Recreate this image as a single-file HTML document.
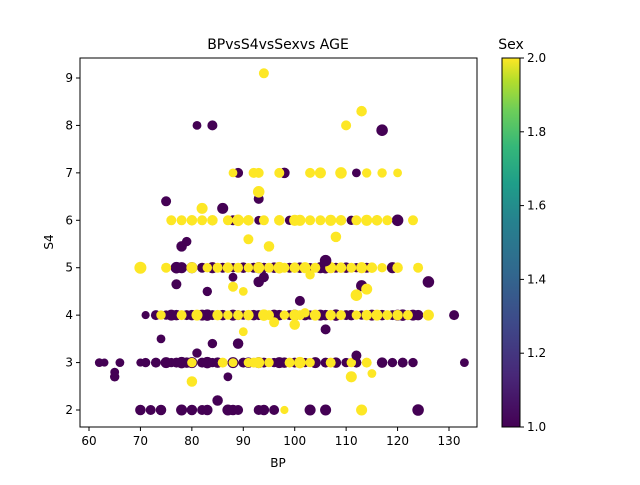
<!DOCTYPE html>
<html><head><meta charset="utf-8"><style>
body{margin:0;background:#fff;font-family:"Liberation Sans","DejaVu Sans",sans-serif}
</style></head><body>
<svg id="c" width="640" height="480" xmlns="http://www.w3.org/2000/svg" font-family="DejaVu Sans, Liberation Sans, sans-serif">
<defs><linearGradient id="vir" x1="0" y1="1" x2="0" y2="0">
<stop offset="0" stop-color="#440154"/><stop offset="0.14" stop-color="#482878"/><stop offset="0.28" stop-color="#3e4989"/><stop offset="0.42" stop-color="#31688e"/><stop offset="0.56" stop-color="#26828e"/><stop offset="0.66" stop-color="#1f9e89"/><stop offset="0.76" stop-color="#35b779"/><stop offset="0.86" stop-color="#6ece58"/><stop offset="0.94" stop-color="#b5de2b"/><stop offset="1" stop-color="#fde725"/></linearGradient></defs>
<g id="marks"></g>
<rect x="80" y="58" width="397" height="369" fill="none" stroke="#000" stroke-width="1"/>
<g id="xt"></g>
<g id="yt"></g>
<text x="278" y="49" text-anchor="middle" font-size="14">BPvsS4vsSexvs AGE</text>
<text x="278" y="467" text-anchor="middle" font-size="12">BP</text>
<text x="53" y="242" text-anchor="middle" font-size="12" transform="rotate(-90 53 242)">S4</text>
<rect x="502" y="58" width="18" height="369" fill="url(#vir)" stroke="#000" stroke-width="1"/>
<text x="511" y="49" text-anchor="middle" font-size="14">Sex</text>
<g id="ct"></g>
</svg>
<script>
const p2 = [[70,50],[72,45],[74,50],[78,55],[80,50],[82,45],[83,50],[87,55],[88,50],[89,45],[93,45],[94,50],[96,45],[103,55],[106,55],[124,60]];
const y2 = [[98,30],[113,55]];
const p3 = [[62,35],[63,30],[66,35],[70,30],[71,40],[73,45],[75,55],[76,40],[77,45],[78,60],[79,50],[80,55],[82,45],[83,60],[84,40],[85,50],[88,55],[90,45],[91,50],[93,55],[94,45],[96,40],[97,55],[98,50],[100,45],[101,50],[102,40],[104,55],[106,45],[108,50],[110,40],[112,45],[117,50],[119,40],[121,45],[123,40],[133,35]];
const y3 = [[80,40],[86,45],[88,35],[91,40],[92,45],[93,55],[95,40],[99,45],[101,60],[103,40],[107,45],[111,40],[114,45]];
const p4 = [[71,30],[73,45],[75,40],[76,55],[77,50],[79,45],[80,50],[82,55],[83,60],[84,45],[86,50],[88,55],[89,45],[90,40],[92,50],[93,45],[96,55],[97,50],[99,45],[100,55],[102,50],[103,40],[105,55],[106,50],[108,60],[110,45],[111,50],[113,40],[115,55],[117,50],[119,45],[120,55],[121,60],[122,45],[123,55],[124,50],[126,45],[131,45]];
const y4 = [[74,40],[78,45],[81,55],[85,50],[87,40],[89,45],[91,50],[94,60],[95,45],[98,40],[100,55],[101,45],[104,55],[107,50],[109,45],[112,40],[114,50],[116,55],[118,45],[120,50],[122,45],[126,55]];
const p5 = [[77,60],[78,55],[80,55],[82,45],[84,55],[86,45],[88,40],[90,50],[92,45],[93,55],[94,45],[96,50],[97,40],[99,45],[101,50],[103,40],[105,55],[106,60],[108,45],[110,50],[112,40],[114,45],[119,55]];
const y5 = [[70,65],[75,45],[80,55],[83,40],[85,45],[87,50],[89,45],[91,40],[93,55],[95,45],[97,60],[98,45],[100,50],[102,55],[104,45],[107,55],[109,50],[111,45],[113,55],[115,50],[117,40],[120,50],[124,45]];
const p6 = [[80,40],[88,45],[93,35],[99,40],[111,40],[116,45],[120,60]];
const y6 = [[76,45],[78,45],[80,50],[82,45],[84,50],[87,45],[89,60],[91,50],[94,45],[97,50],[100,55],[101,55],[103,45],[105,45],[107,55],[109,50],[112,45],[114,55],[116,50],[118,45],[123,45]];
const p7 = [[89,45],[98,50],[112,35]];
const y7 = [[88,35],[92,45],[93,45],[97,45],[103,45],[105,55],[109,60],[114,40],[117,40],[120,35]];
const pOther = [[81,8,35],[84,8,45],[117,7.9,60],[75,6.4,45],[93,6.45,45],[86,6.25,55],[78,5.45,50],[79,5.55,40],[113,4.62,55],[101,4.3,45],[106,3.7,45],[112,3.15,45],[81,3.2,40],[74,3.5,35],[84,3.4,40],[89,3.4,50],[65,2.8,35],[65,2.7,40],[87,2.7,35],[85,2.2,50],[126,4.7,60],[106,5.15,60],[77,4.65,45],[83,4.5,40],[88,4.8,35],[93,4.7,50],[94,4.8,45]];
const yOther = [[94,9.1,45],[110,8,45],[113,8.3,50],[93,6.6,60],[82,6.25,55],[108,5.65,50],[91,5.6,45],[95,5.45,50],[90,4.5,35],[88,4.6,45],[103,4.85,40],[100,3.8,50],[90,3.65,35],[111,2.7,55],[80,2.6,50],[96,3.85,45],[112,4.42,60],[115,2.77,35],[114,4.55,55],[102,4.05,40]];
const xTicks = [60,70,80,90,100,110,120,130];
const yTicks = [2,3,4,5,6,7,8,9];
const cTicks = [1.0,1.2,1.4,1.6,1.8,2.0];

const X = v => 89 + (v-60)*(360/70);
const Y = v => 410 - (v-2)*(332/7);
const C = v => 427 - (v-1)*369;
const NS = "http://www.w3.org/2000/svg";
const col = s => s===1 ? "#440154" : "#fde725";
const pts = [];
function addRow(arr, s4, sex){ arr.forEach(d => pts.push([d[0], s4, sex, d[1]])); }
addRow(p2,2,1); addRow(y2,2,2); addRow(p3,3,1); addRow(y3,3,2);
addRow(p4,4,1); addRow(y4,4,2); addRow(p5,5,1); addRow(y5,5,2);
addRow(p6,6,1); addRow(y6,6,2); addRow(p7,7,1); addRow(y7,7,2);
pOther.forEach(d => pts.push([d[0], d[1], 1, d[2]]));
yOther.forEach(d => pts.push([d[0], d[1], 2, d[2]]));
const g = document.getElementById("marks");
pts.forEach(p => {
  const c = document.createElementNS(NS, "circle");
  c.setAttribute("cx", X(p[0]).toFixed(1));
  c.setAttribute("cy", Y(p[1]).toFixed(1));
  c.setAttribute("r", (Math.sqrt(p[3]/Math.PI)*1.39*0.95).toFixed(2));
  c.setAttribute("fill", col(p[2]));
  
  
  g.appendChild(c);
});
function txt(parent, x, y, s, anchor){
  const t = document.createElementNS(NS, "text");
  t.setAttribute("x", x); t.setAttribute("y", y);
  t.setAttribute("font-size", "12"); t.setAttribute("text-anchor", anchor);
  t.textContent = s;
  
  
  parent.appendChild(t);
}
function line(parent, x1, y1, x2, y2){
  const l = document.createElementNS(NS, "line");
  l.setAttribute("x1", x1); l.setAttribute("y1", y1); l.setAttribute("x2", x2); l.setAttribute("y2", y2);
  l.setAttribute("stroke", "#000");
  
  
  parent.appendChild(l);
}
const xt = document.getElementById("xt");
xTicks.forEach(v => { line(xt, X(v), 427, X(v), 431); txt(xt, X(v), 445, String(v), "middle"); });
const yt = document.getElementById("yt");
yTicks.forEach(v => { line(yt, 76, Y(v), 80, Y(v)); txt(yt, 73, Y(v)+4, String(v), "end"); });
const ct = document.getElementById("ct");
cTicks.forEach(v => { line(ct, 520, C(v), 524, C(v)); txt(ct, 527, C(v)+4, v.toFixed(1), "start"); });
</script>
</body></html>
